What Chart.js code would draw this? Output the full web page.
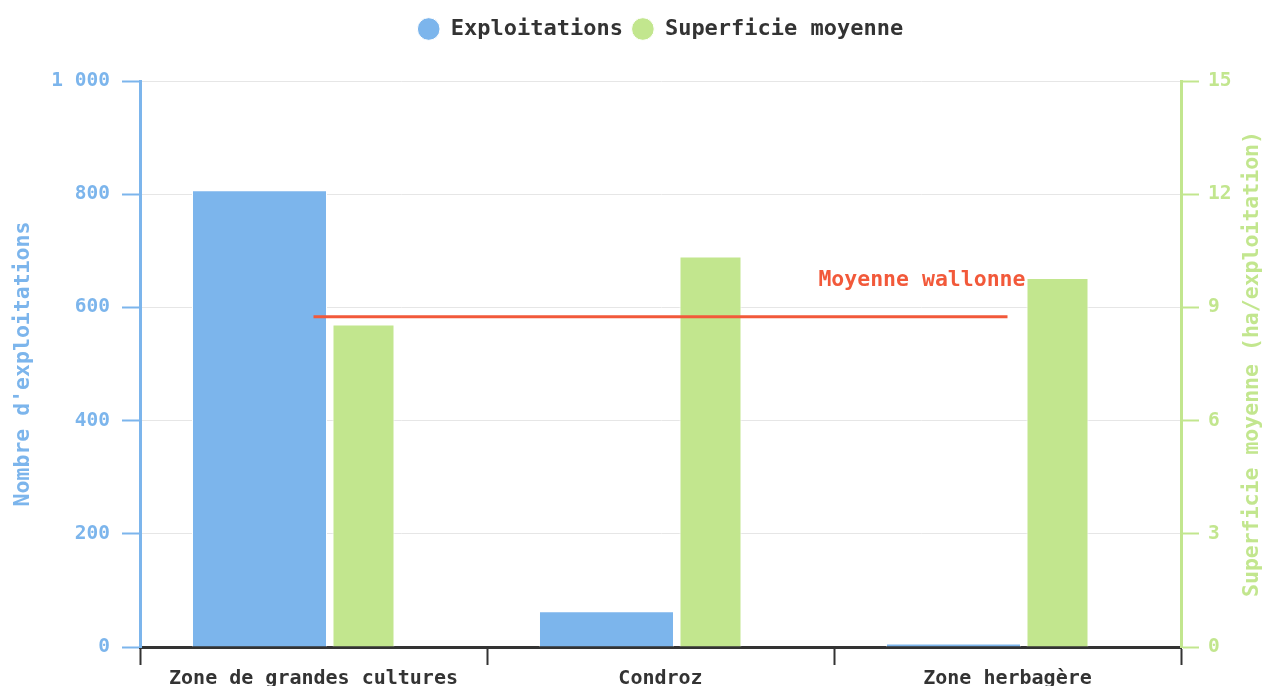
<!DOCTYPE html>
<html>
<head>
<meta charset="utf-8">
<script src="https://cdn.jsdelivr.net/npm/chart.js@4"></script>
<style>
  html, body { margin: 0; padding: 0; background: #fff; overflow: hidden; }
  #wrap { width: 1263px; height: 686px; }
</style>
</head>
<body>
<div id="wrap"><canvas id="chart" width="1263" height="686"></canvas></div>
<script>
const categories = ["Zone de grandes cultures", "Condroz", "Zone herbagère"];
const exploitations = [807, 63, 6];
const superficie = [8.55, 10.35, 9.78];
const moyenneWallonne = [8.75, 8.75, 8.75];
const leftTicks = [0, 200, 400, 600, 800, 1000];
const rightTicks = [0, 3, 6, 9, 12, 15];

const BLUE = "#7cb5ec";
const GREEN = "#c2e68e";
const RED = "#f2593a";
const DARK = "#333333";
const MONO = "'DejaVu Sans Mono', monospace";

// label of the average line + right axis title (reads bottom to top)
const extras = {
  id: "extras",
  afterDatasetsDraw(chart) {
    const meta = chart.getDatasetMeta(0);
    const last = meta.data[meta.data.length - 1];
    const c = chart.ctx;
    c.save();
    c.font = "bold 21.5px " + MONO;
    c.fillStyle = RED;
    c.textAlign = "right";
    c.textBaseline = "middle";
    c.fillText("Moyenne wallonne", last.x + 18, last.y - 36);
    c.restore();

    const area = chart.chartArea;
    c.save();
    c.translate(1252, (area.top + area.bottom) / 2);
    c.rotate(-Math.PI / 2);
    c.font = "bold 21.5px " + MONO;
    c.fillStyle = GREEN;
    c.textAlign = "center";
    c.textBaseline = "middle";
    c.fillText("Superficie moyenne (ha/exploitation)", 0, 0);
    c.restore();
  }
};

const fmt = v => String(v).replace(/\B(?=(\d{3})+(?!\d))/g, " ");

new Chart(document.getElementById("chart"), {
  data: {
    labels: categories,
    datasets: [
      {
        type: "line",
        label: "Moyenne wallonne",
        data: moyenneWallonne,
        yAxisID: "y1",
        borderColor: RED,
        borderWidth: 3,
        pointRadius: 0,
        order: 0
      },
      {
        type: "bar",
        label: "Exploitations",
        data: exploitations,
        yAxisID: "y",
        backgroundColor: BLUE,
        borderColor: "#ffffff",
        borderWidth: 1,
        categoryPercentage: 0.6225,
        barPercentage: 1.25,
        order: 1
      },
      {
        type: "bar",
        label: "Superficie moyenne",
        data: superficie,
        yAxisID: "y1",
        backgroundColor: GREEN,
        borderColor: "#ffffff",
        borderWidth: 1,
        categoryPercentage: 0.5764,
        barPercentage: 0.62,
        order: 2
      }
    ]
  },
  options: {
    responsive: false,
    animation: false,
    layout: { padding: { top: 9, left: 0, right: 0, bottom: 0 } },
    plugins: {
      tooltip: { enabled: false },
      // empty title used as a spacer between legend and plot
      title: {
        display: true,
        text: "",
        weight: 500,
        fullSize: false,
        font: { size: 10 },
        padding: { top: 0, bottom: 19 }
      },
      legend: {
        position: "top",
        fullSize: false,
        labels: {
          filter: item => item.text !== "Moyenne wallonne",
          usePointStyle: true,
          pointStyle: "circle",
          boxWidth: 26,
          boxHeight: 16,
          padding: 9,
          color: DARK,
          font: { family: MONO, size: 22, weight: "bold" }
        }
      }
    },
    scales: {
      x: {
        offset: true,
        afterFit: s => { s.height = 39; },
        grid: { offset: true, drawOnChartArea: false, tickLength: 18, tickColor: DARK, tickWidth: 2 },
        border: { color: DARK, width: 3 },
        ticks: { color: DARK, padding: 2, font: { family: MONO, size: 20, weight: "bold" } }
      },
      y: {
        position: "left",
        min: 0,
        max: 1000,
        afterFit: s => { s.width = 140; },
        afterBuildTicks: s => { s.ticks = leftTicks.map(v => ({ value: v })); },
        grid: { color: "#e6e6e6", lineWidth: 1, tickLength: 18, tickColor: BLUE, tickWidth: 2 },
        border: { color: BLUE, width: 3 },
        ticks: { color: BLUE, padding: 12, callback: v => fmt(v), font: { family: MONO, size: 19.5, weight: "bold" } },
        title: { display: true, text: "Nombre d'exploitations", color: BLUE, padding: { top: 11, bottom: 0 }, font: { family: MONO, size: 21.5, weight: "bold" } }
      },
      y1: {
        position: "right",
        min: 0,
        max: 15,
        afterFit: s => { s.width = 82; },
        afterBuildTicks: s => { s.ticks = rightTicks.map(v => ({ value: v })); },
        grid: { drawOnChartArea: false, tickLength: 18, tickColor: GREEN, tickWidth: 2 },
        border: { color: GREEN, width: 3 },
        ticks: { color: GREEN, padding: 9, font: { family: MONO, size: 19.5, weight: "bold" } }
      }
    }
  },
  plugins: [extras]
});
</script>
</body>
</html>
